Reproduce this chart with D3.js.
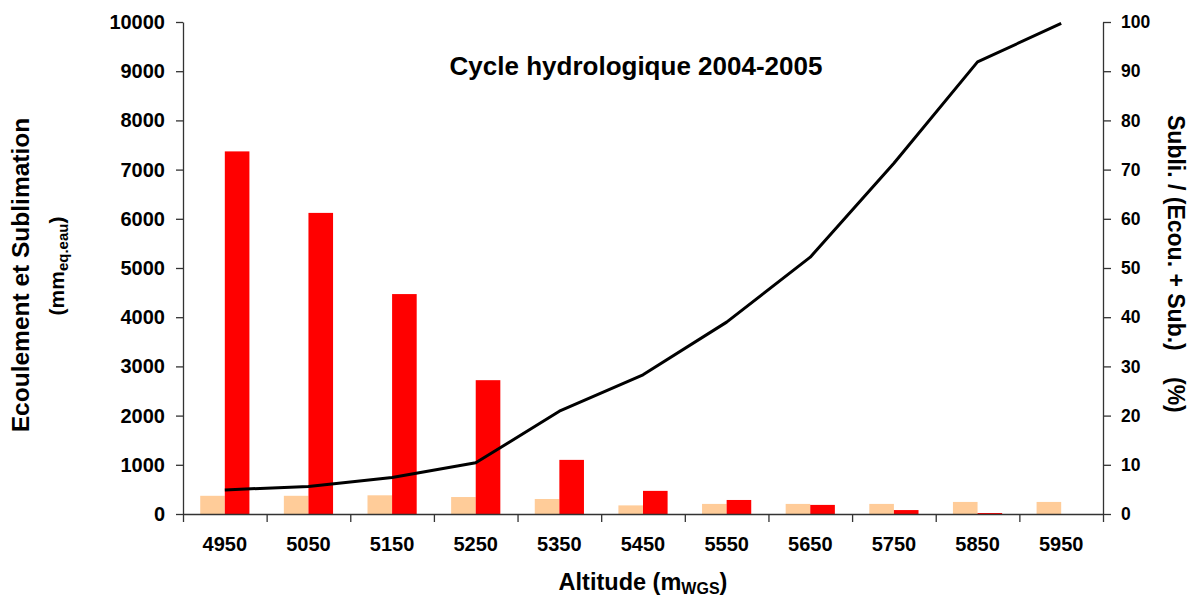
<!DOCTYPE html>
<html>
<head>
<meta charset="utf-8">
<script src="https://cdn.jsdelivr.net/npm/d3@7"></script>
<style>
  html, body { margin: 0; padding: 0; background: #fff; }
  svg { display: block; font-family: "Liberation Sans", Arial, sans-serif; font-weight: bold; }
</style>
</head>
<body>
<svg id="chart" width="1192" height="599"></svg>
<script>
// Altitude bands (m WGS)
const altitudes = ["4950", "5050", "5150", "5250", "5350", "5450", "5550", "5650", "5750", "5850", "5950"];
// Sublimation per band (mm eq. eau)
const sublimation = [370, 370, 380, 345, 305, 175, 205, 205, 205, 245, 245];
// Écoulement per band (mm eq. eau)
const ecoulement = [7370, 6120, 4470, 2720, 1100, 470, 285, 185, 80, 20, 0];
// Sublimation share: Subli. / (Ecou. + Sub.) in %
const ratio = [4.9, 5.6, 7.4, 10.4, 20.9, 28.3, 39.0, 52.2, 71.3, 91.9, 99.7];
// Axis ticks
const leftTicks = [0, 1000, 2000, 3000, 4000, 5000, 6000, 7000, 8000, 9000, 10000];
const rightTicks = [0, 10, 20, 30, 40, 50, 60, 70, 80, 90, 100];

const svg = d3.select("#chart");
const plot = { left: 183, right: 1103, top: 22, bottom: 514 };

const x = d3.scaleBand().domain(altitudes).range([plot.left, plot.right]).padding(0);
const xEdge = d3.scaleLinear().domain([0, altitudes.length]).range([plot.left, plot.right]);
const sub = d3.scaleBand().domain(["sub", "ecou"]).range([0, x.bandwidth()])
  .paddingInner(0).paddingOuter(0.7);
const yL = d3.scaleLinear().domain([0, 10000]).range([plot.bottom, plot.top]);
const yR = d3.scaleLinear().domain([0, 100]).range([plot.bottom, plot.top]);

// Bars
const bars = svg.append("g");
bars.selectAll("rect.sub").data(altitudes).join("rect")
  .attr("class", "sub")
  .attr("x", (d) => x(d) + sub("sub"))
  .attr("width", sub.bandwidth())
  .attr("y", (d, i) => yL(sublimation[i]))
  .attr("height", (d, i) => yL(0) - yL(sublimation[i]))
  .attr("fill", "#FFCC99");
bars.selectAll("rect.ecou").data(altitudes).join("rect")
  .attr("class", "ecou")
  .attr("x", (d) => x(d) + sub("ecou"))
  .attr("width", sub.bandwidth())
  .attr("y", (d, i) => yL(ecoulement[i]))
  .attr("height", (d, i) => yL(0) - yL(ecoulement[i]))
  .attr("fill", "#FF0000");

// Ratio line
const line = d3.line()
  .x((d, i) => x(altitudes[i]) + x.bandwidth() / 2)
  .y((d) => yR(d));
svg.append("path").datum(ratio)
  .attr("d", line)
  .attr("fill", "none")
  .attr("stroke", "#000")
  .attr("stroke-width", 3)
  .attr("stroke-linejoin", "round");

const axisColor = "#333";
function styleAxis(g, size) {
  g.selectAll("path.domain").attr("stroke", axisColor).attr("stroke-width", 1.3);
  g.selectAll(".tick line").attr("stroke", axisColor).attr("stroke-width", 1.3);
  g.selectAll("text").attr("fill", "#000").style("font-size", size + "px")
    .style("font-weight", "bold").style("font-family", '"Liberation Sans", Arial, sans-serif');
}

// Left axis
const gL = svg.append("g").attr("transform", `translate(${plot.left},0)`)
  .call(d3.axisLeft(yL).tickValues(leftTicks).tickFormat(d3.format("d"))
    .tickSize(7).tickPadding(11).tickSizeOuter(0));
styleAxis(gL, 20);

// Right axis
const gR = svg.append("g").attr("transform", `translate(${plot.right},0)`)
  .call(d3.axisRight(yR).tickValues(rightTicks).tickFormat(d3.format("d"))
    .tickSize(8).tickPadding(10).tickSizeOuter(0));
styleAxis(gR, 17.5);

// Bottom axis: boundary ticks and centred labels
const gBt = svg.append("g").attr("transform", `translate(0,${plot.bottom})`)
  .call(d3.axisBottom(xEdge).tickValues(d3.range(0, altitudes.length + 1)).tickFormat("").tickSize(8).tickSizeOuter(0));
styleAxis(gBt, 20);
const gBl = svg.append("g").attr("transform", `translate(0,${plot.bottom})`)
  .call(d3.axisBottom(x).tickSize(0).tickPadding(22.5));
gBl.select("path.domain").remove();
styleAxis(gBl, 20);

// Title
svg.append("text")
  .attr("x", 636).attr("y", 75)
  .attr("text-anchor", "middle")
  .style("font-size", "26px")
  .text("Cycle hydrologique 2004-2005");

// X axis title
const xt = svg.append("text")
  .attr("x", 643).attr("y", 590)
  .attr("text-anchor", "middle")
  .style("font-size", "23.5px");
xt.append("tspan").text("Altitude (m");
xt.append("tspan").attr("dy", 4).style("font-size", "16px").text("WGS");
xt.append("tspan").attr("dy", -4).text(")");

// Left axis title (two lines)
svg.append("text")
  .attr("transform", "translate(29,275) rotate(-90)")
  .attr("text-anchor", "middle")
  .style("font-size", "24.5px")
  .text("Ecoulement et Sublimation");
const lt2 = svg.append("text")
  .attr("transform", "translate(64,266) rotate(-90)")
  .attr("text-anchor", "middle")
  .style("font-size", "21px");
lt2.append("tspan").text("(mm");
lt2.append("tspan").attr("dy", 4).style("font-size", "15px").text("eq.eau");
lt2.append("tspan").attr("dy", -4).text(")");

// Right axis title
svg.append("text")
  .attr("transform", "translate(1168,115) rotate(90)")
  .attr("text-anchor", "start")
  .style("font-size", "23px")
  .text("Subli. / (Ecou. + Sub.)");
svg.append("text")
  .attr("transform", "translate(1168,377) rotate(90)")
  .attr("text-anchor", "start")
  .style("font-size", "23px")
  .text("(%)");
</script>
</body>
</html>
